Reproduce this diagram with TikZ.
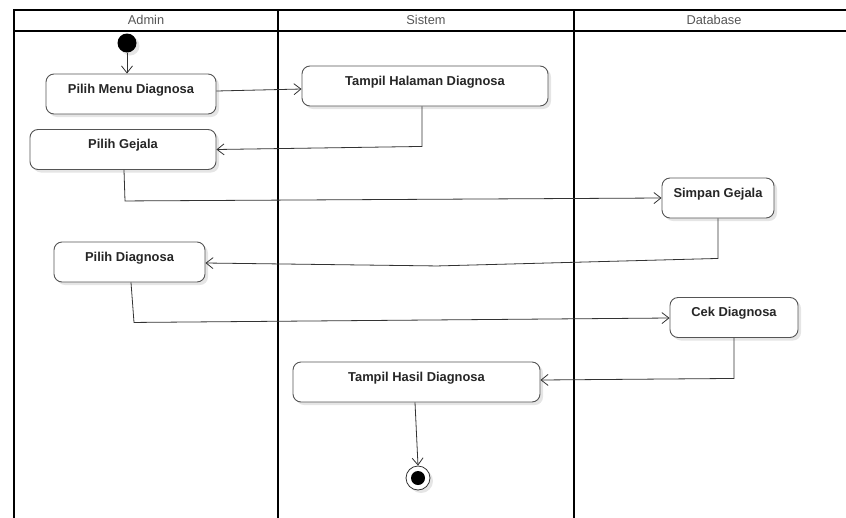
\documentclass[tikz,border=0pt]{standalone}
\usepackage{fontspec}
\setmainfont{Liberation Sans}
\usetikzlibrary{arrows.meta,shadows}
\definecolor{boxline}{HTML}{555555}
\definecolor{flowline}{HTML}{333333}
\definecolor{headtext}{HTML}{555555}
\begin{document}
\begin{tikzpicture}[x=1pt,y=-1pt,
  lane/.style={line width=2pt,black},
  lanetitle/.style={font=\fontsize{12.8}{14}\selectfont,text=headtext,inner sep=0pt},
  action/.style={draw=boxline,line width=0.9pt,rounded corners=8pt,fill=white,
    drop shadow={shadow xshift=3pt,shadow yshift=-3pt,opacity=0.1,fill=black},
    font=\bfseries\fontsize{12.9}{14}\selectfont,text=black!85,
    minimum height=40pt,inner xsep=2pt,inner ysep=9pt,
    text height=10pt,text depth=12pt},
  flow/.style={draw=flowline,line width=0.8pt,-{Straight Barb[length=7pt,width=11pt]}},
  startnode/.style={circle,fill=black,minimum size=19pt,inner sep=0pt,
    drop shadow={shadow xshift=3pt,shadow yshift=-3pt,opacity=0.1,fill=black}},
  endnode/.style={circle,draw=flowline,line width=0.8pt,fill=white,minimum size=24pt,inner sep=0pt,
    drop shadow={shadow xshift=3pt,shadow yshift=-3pt,opacity=0.1,fill=black}},
  enddot/.style={circle,fill=black,minimum size=14pt,inner sep=0pt}]
\useasboundingbox (0,0) rectangle (846,517);
\clip (0,0) rectangle (846,517);

% swimlane frame
\draw[lane] (14,520) -- (14,10) -- (850,10);
\draw[lane] (14,31) -- (850,31);
\draw[lane] (278,10) -- (278,520);
\draw[lane] (574,10) -- (574,520);
\node[lanetitle] (tadmin) at (146,20) {Admin};
\node[lanetitle] (tsistem) at (426,20) {Sistem};
\node[lanetitle] (tdb) at (714,20) {Database};

% activities
\node[startnode] (init) at (127,43) {};
\node[action,minimum width=170pt] (menu) at (131,94) {Pilih Menu Diagnosa};
\node[action,minimum width=246pt] (halaman) at (425,86) {Tampil Halaman Diagnosa};
\node[action,minimum width=186pt] (gejala) at (123,149.5) {Pilih Gejala};
\node[action,minimum width=112pt] (simpan) at (718,198) {Simpan Gejala};
\node[action,minimum width=151pt] (pilihdiag) at (129.5,262) {Pilih Diagnosa};
\node[action,minimum width=128pt] (cek) at (734,317.5) {Cek Diagnosa};
\node[action,minimum width=247pt] (hasil) at (416.5,382) {Tampil Hasil Diagnosa};
\node[endnode] (final) at (418,478) {};
\node[enddot] (finaldot) at (final.center) {};

% transitions
\draw[flow] (init.south) -- (init.south |- menu.north);
\draw[flow] ([yshift=3pt]menu.east) -- ([yshift=-3pt]halaman.west);
\draw[flow] ([xshift=-3pt]halaman.south) -- ++(0,40) -- (gejala.east);
\draw[flow] ([xshift=1pt]gejala.south) -- ++(1,31) -- (simpan.west);
\draw[flow] (simpan.south) -- ++(0,40) -- ++(-281,7.5) -- ([yshift=-1pt]pilihdiag.east);
\draw[flow] ([xshift=1.5pt]pilihdiag.south) -- ++(3,40) -- ([yshift=-0.5pt]cek.west);
\draw[flow] (cek.south) -- ++(0,40.5) -- ([yshift=2pt]hasil.east);
\draw[flow] ([xshift=-1.5pt]hasil.south) -- (final.north);
\end{tikzpicture}
\end{document}
